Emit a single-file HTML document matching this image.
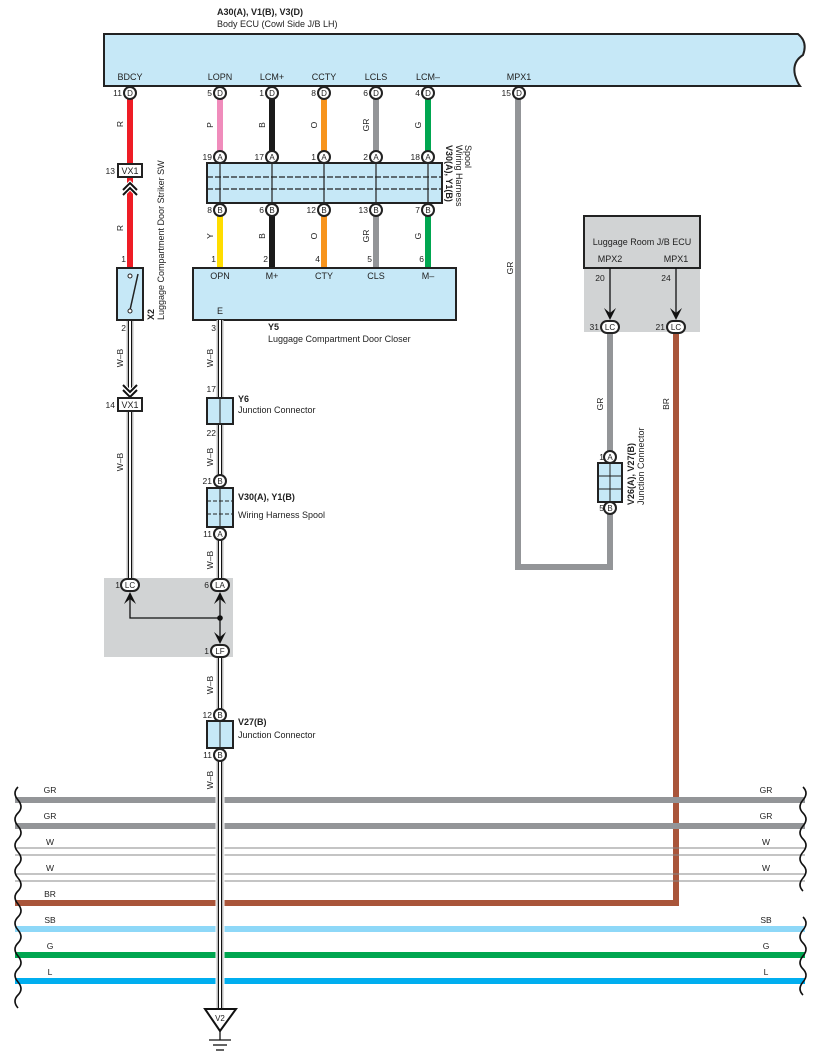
<!DOCTYPE html>
<html><head><meta charset="utf-8"><style>
html,body{margin:0;padding:0;background:#fff;}
svg{display:block;font-family:"Liberation Sans",sans-serif;}
</style></head><body>
<svg width="817" height="1061" viewBox="0 0 817 1061" xmlns="http://www.w3.org/2000/svg" font-size="8.5" fill="#222">

<!-- Body ECU -->
<text x="217" y="15" font-weight="bold" font-size="9">A30(A), V1(B), V3(D)</text>
<text x="217" y="27" font-size="9">Body ECU (Cowl Side J/B LH)</text>
<path d="M104,34 H798 Q808,42 803,55 Q792,62 795,75 Q797,82 800,86 H104 Z" fill="#c6e8f7" stroke="#222" stroke-width="2"/>
<g text-anchor="middle" font-size="9">
<text x="130" y="80">BDCY</text><text x="220" y="80">LOPN</text><text x="272" y="80">LCM+</text>
<text x="324" y="80">CCTY</text><text x="376" y="80">LCLS</text><text x="428" y="80">LCM–</text><text x="519" y="80">MPX1</text>
</g>

<!-- ECU pin wires -->
<g stroke-width="6" fill="none">
<line x1="130" y1="99" x2="130" y2="268" stroke="#ee1c25"/>
<line x1="220" y1="99" x2="220" y2="152" stroke="#f08cbc"/>
<line x1="272" y1="99" x2="272" y2="152" stroke="#1a1a1a"/>
<line x1="324" y1="99" x2="324" y2="152" stroke="#f7941d"/>
<line x1="376" y1="99" x2="376" y2="152" stroke="#939598"/>
<line x1="428" y1="99" x2="428" y2="152" stroke="#00a650"/>
<line x1="220" y1="215" x2="220" y2="268" stroke="#ffdd00"/>
<line x1="272" y1="215" x2="272" y2="268" stroke="#1a1a1a"/>
<line x1="324" y1="215" x2="324" y2="268" stroke="#f7941d"/>
<line x1="376" y1="215" x2="376" y2="268" stroke="#939598"/>
<line x1="428" y1="215" x2="428" y2="268" stroke="#00a650"/>
<polyline points="518,99 518,567 610,567 610,333" stroke="#939598"/>
<polyline points="676,333 676,903 15,903" stroke="#a9553a"/>
</g>

<!-- Gray areas -->
<rect x="584" y="268" width="116" height="64" fill="#d1d3d4"/>
<rect x="104" y="578" width="129" height="79" fill="#d1d3d4"/>

<!-- Spool box -->
<rect x="207" y="163" width="235" height="40" fill="#c6e8f7" stroke="#222" stroke-width="2"/>
<g stroke="#222" stroke-width="1.2">
<line x1="207" y1="177" x2="442" y2="177" stroke-dasharray="6,2"/>
<line x1="207" y1="189" x2="442" y2="189" stroke-dasharray="6,2"/>
<line x1="220" y1="163" x2="220" y2="203"/><line x1="272" y1="163" x2="272" y2="203"/>
<line x1="324" y1="163" x2="324" y2="203"/><line x1="376" y1="163" x2="376" y2="203"/>
<line x1="428" y1="163" x2="428" y2="203"/>
</g>
<g transform="translate(446,145) rotate(90)" font-size="9">
<text x="0" y="0" font-weight="bold">V30(A), Y1(B)</text>
<text x="0" y="-10">Wiring Harness</text>
<text x="0" y="-19">Spool</text>
</g>

<!-- Connector circles -->
<g stroke="#222" stroke-width="2" fill="#fff">
<circle cx="130" cy="93" r="6"/><circle cx="220" cy="93" r="6"/><circle cx="272" cy="93" r="6"/>
<circle cx="324" cy="93" r="6"/><circle cx="376" cy="93" r="6"/><circle cx="428" cy="93" r="6"/><circle cx="519" cy="93" r="6"/>
<circle cx="220" cy="157" r="6"/><circle cx="272" cy="157" r="6"/><circle cx="324" cy="157" r="6"/><circle cx="376" cy="157" r="6"/><circle cx="428" cy="157" r="6"/>
<circle cx="220" cy="210" r="6"/><circle cx="272" cy="210" r="6"/><circle cx="324" cy="210" r="6"/><circle cx="376" cy="210" r="6"/><circle cx="428" cy="210" r="6"/>
</g>
<g text-anchor="middle" font-size="8">
<text x="130" y="96">D</text><text x="220" y="96">D</text><text x="272" y="96">D</text><text x="324" y="96">D</text><text x="376" y="96">D</text><text x="428" y="96">D</text><text x="519" y="96">D</text>
<text x="220" y="160">A</text><text x="272" y="160">A</text><text x="324" y="160">A</text><text x="376" y="160">A</text><text x="428" y="160">A</text>
<text x="220" y="213">B</text><text x="272" y="213">B</text><text x="324" y="213">B</text><text x="376" y="213">B</text><text x="428" y="213">B</text>
</g>
<g text-anchor="end" font-size="8.5">
<text x="122" y="96">11</text><text x="212" y="96">5</text><text x="264" y="96">1</text><text x="316" y="96">8</text><text x="368" y="96">6</text><text x="420" y="96">4</text><text x="511" y="96">15</text>
<text x="212" y="160">19</text><text x="264" y="160">17</text><text x="316" y="160">1</text><text x="368" y="160">2</text><text x="420" y="160">18</text>
<text x="212" y="213">8</text><text x="264" y="213">6</text><text x="316" y="213">12</text><text x="368" y="213">13</text><text x="420" y="213">7</text>
<text x="216" y="262">1</text><text x="268" y="262">2</text><text x="320" y="262">4</text><text x="372" y="262">5</text><text x="424" y="262">6</text>
<text x="126" y="262">1</text><text x="126" y="331">2</text><text x="216" y="331">3</text>
<text x="216" y="392">17</text><text x="216" y="436">22</text>
<text x="212" y="484">21</text><text x="212" y="537">11</text>
<text x="212" y="718">12</text><text x="212" y="758">11</text>
<text x="115" y="174">13</text><text x="115" y="408">14</text>
<text x="120" y="588">1</text><text x="209" y="588">6</text><text x="209" y="654">1</text>
<text x="604" y="460">1</text><text x="604" y="511">5</text>
<text x="599" y="330">31</text><text x="665" y="330">21</text>
</g>

<!-- wire colour labels (rotated) -->
<g font-size="8.5" text-anchor="middle">
<text transform="translate(123,124) rotate(-90)">R</text>
<text transform="translate(123,228) rotate(-90)">R</text>
<text transform="translate(213,125) rotate(-90)">P</text>
<text transform="translate(265,125) rotate(-90)">B</text>
<text transform="translate(317,125) rotate(-90)">O</text>
<text transform="translate(369,125) rotate(-90)">GR</text>
<text transform="translate(421,125) rotate(-90)">G</text>
<text transform="translate(213,236) rotate(-90)">Y</text>
<text transform="translate(265,236) rotate(-90)">B</text>
<text transform="translate(317,236) rotate(-90)">O</text>
<text transform="translate(369,236) rotate(-90)">GR</text>
<text transform="translate(421,236) rotate(-90)">G</text>
<text transform="translate(123,358) rotate(-90)">W–B</text>
<text transform="translate(123,462) rotate(-90)">W–B</text>
<text transform="translate(213,358) rotate(-90)">W–B</text>
<text transform="translate(213,457) rotate(-90)">W–B</text>
<text transform="translate(213,560) rotate(-90)">W–B</text>
<text transform="translate(213,685) rotate(-90)">W–B</text>
<text transform="translate(213,780) rotate(-90)">W–B</text>
<text transform="translate(513,268) rotate(-90)">GR</text>
<text transform="translate(603,404) rotate(-90)">GR</text>
<text transform="translate(669,404) rotate(-90)">BR</text>
</g>

<!-- Y5 box -->
<rect x="193" y="268" width="263" height="52" fill="#c6e8f7" stroke="#222" stroke-width="2"/>
<g text-anchor="middle" font-size="9">
<text x="220" y="279">OPN</text><text x="272" y="279">M+</text><text x="324" y="279">CTY</text><text x="376" y="279">CLS</text><text x="428" y="279">M–</text>
<text x="220" y="314">E</text>
</g>
<text x="268" y="330" font-weight="bold" font-size="9">Y5</text>
<text x="268" y="342" font-size="9">Luggage Compartment Door Closer</text>

<!-- Bus lines -->
<g stroke-width="6">
<line x1="15" y1="800" x2="805" y2="800" stroke="#939598"/>
<line x1="15" y1="826" x2="805" y2="826" stroke="#939598"/>
<line x1="15" y1="929" x2="805" y2="929" stroke="#8ed8f8"/>
<line x1="15" y1="955" x2="805" y2="955" stroke="#00a650"/>
<line x1="15" y1="981" x2="805" y2="981" stroke="#00aeef"/>
</g>
<g stroke="#888" stroke-width="1">
<line x1="15" y1="848" x2="805" y2="848"/><line x1="15" y1="855" x2="805" y2="855"/>
<line x1="15" y1="874" x2="805" y2="874"/><line x1="15" y1="881" x2="805" y2="881"/>
</g>
<g font-size="8.5" text-anchor="middle">
<text x="50" y="793">GR</text><text x="50" y="819">GR</text><text x="50" y="845">W</text><text x="50" y="871">W</text>
<text x="50" y="897">BR</text><text x="50" y="923">SB</text><text x="50" y="949">G</text><text x="50" y="975">L</text>
<text x="766" y="793">GR</text><text x="766" y="819">GR</text><text x="766" y="845">W</text><text x="766" y="871">W</text>
<text x="766" y="923">SB</text><text x="766" y="949">G</text><text x="766" y="975">L</text>
</g>
<g fill="none" stroke="#111" stroke-width="1.6">
<path d="M18,787 q-6,6 0,13 q6,7 0,13 q-6,6 0,13 q6,7 0,13 q-6,6 0,13 q6,7 0,13 q-6,6 0,13 q6,7 0,13 q-6,6 0,13 q6,7 0,13 q-6,6 0,13 q6,7 0,13 q-6,6 0,13 q6,7 0,13 q-6,6 0,13 q6,7 0,13 q-6,6 0,13"/>
<path d="M803,787 q6,6 0,13 q-6,7 0,13 q6,6 0,13 q-6,7 0,13 q6,6 0,13 q-6,7 0,13 q6,6 0,13 q-6,7 0,13"/>
<path d="M803,917 q6,6 0,13 q-6,7 0,13 q6,6 0,13 q-6,7 0,13 q6,6 0,13 q-6,7 0,13"/>
</g>

<!-- W-B wires (double) -->
<g fill="none">
<g stroke="#fff" stroke-width="9">
<line x1="220" y1="657" x2="220" y2="1008"/>
</g>
<g stroke="#bbb" stroke-width="7">
<line x1="130" y1="320" x2="130" y2="580"/>
<line x1="220" y1="320" x2="220" y2="580"/>
<line x1="220" y1="657" x2="220" y2="1008"/>
</g>
<g stroke="#fff" stroke-width="4">
<line x1="130" y1="320" x2="130" y2="580"/>
<line x1="220" y1="320" x2="220" y2="580"/>
<line x1="220" y1="657" x2="220" y2="1008"/>
</g>
<g stroke="#111" stroke-width="1">
<line x1="128.5" y1="320" x2="128.5" y2="580"/><line x1="131.5" y1="320" x2="131.5" y2="580"/>
<line x1="218.5" y1="320" x2="218.5" y2="580"/><line x1="221.5" y1="320" x2="221.5" y2="580"/>
<line x1="218.5" y1="657" x2="218.5" y2="1008"/><line x1="221.5" y1="657" x2="221.5" y2="1008"/>
</g>
</g>

<!-- VX1 boxes and chevrons -->
<g fill="none" stroke="#111" stroke-width="2">
<path d="M123,190 l7,-7 l7,7 M123,195 l7,-7 l7,7" stroke="#fff" stroke-width="4"/>
<path d="M123,190 l7,-7 l7,7 M123,195 l7,-7 l7,7"/>
<path d="M123,385 l7,7 l7,-7 M123,390 l7,7 l7,-7" stroke="#fff" stroke-width="4"/>
<path d="M123,385 l7,7 l7,-7 M123,390 l7,7 l7,-7"/>
</g>
<g fill="#fff" stroke="#222" stroke-width="2">
<rect x="118" y="164" width="24" height="13"/>
<rect x="118" y="398" width="24" height="13"/>
</g>
<g text-anchor="middle" font-size="9"><text x="130" y="174">VX1</text><text x="130" y="408">VX1</text></g>

<!-- X2 switch -->
<rect x="117" y="268" width="26" height="52" fill="#c6e8f7" stroke="#222" stroke-width="2"/>
<line x1="130" y1="310" x2="138" y2="274" stroke="#222" stroke-width="1.5"/>
<circle cx="130" cy="276" r="2" fill="#fff" stroke="#222" stroke-width="1"/>
<circle cx="130" cy="311" r="2" fill="#fff" stroke="#222" stroke-width="1"/>
<g transform="translate(154,320) rotate(-90)" font-size="9">
<text x="0" y="0" font-weight="bold">X2</text>
<text x="0" y="10">Luggage Compartment Door Striker SW</text>
</g>

<!-- Y6 -->
<rect x="207" y="398" width="26" height="26" fill="#c6e8f7" stroke="#222" stroke-width="2"/>
<line x1="220" y1="398" x2="220" y2="424" stroke="#222"/>
<text x="238" y="402" font-weight="bold" font-size="9">Y6</text>
<text x="238" y="413" font-size="9">Junction Connector</text>

<!-- spool 2 -->
<rect x="207" y="488" width="26" height="39" fill="#c6e8f7" stroke="#222" stroke-width="2"/>
<g stroke="#222" stroke-width="1"><line x1="220" y1="488" x2="220" y2="527"/><line x1="207" y1="501" x2="233" y2="501" stroke-dasharray="4,2"/><line x1="207" y1="514" x2="233" y2="514" stroke-dasharray="4,2"/></g>
<text x="238" y="500" font-weight="bold" font-size="9">V30(A), Y1(B)</text>
<text x="238" y="518" font-size="9">Wiring Harness Spool</text>

<!-- V27 -->
<rect x="207" y="721" width="26" height="27" fill="#c6e8f7" stroke="#222" stroke-width="2"/>
<line x1="220" y1="721" x2="220" y2="748" stroke="#222"/>
<text x="238" y="725" font-weight="bold" font-size="9">V27(B)</text>
<text x="238" y="738" font-size="9">Junction Connector</text>

<g stroke="#222" stroke-width="2" fill="#fff">
<circle cx="220" cy="481" r="6"/><circle cx="220" cy="534" r="6"/>
<circle cx="220" cy="715" r="6"/><circle cx="220" cy="755" r="6"/>
</g>
<g text-anchor="middle" font-size="8"><text x="220" y="484">B</text><text x="220" y="537">A</text><text x="220" y="718">B</text><text x="220" y="758">B</text></g>

<!-- junction area -->
<polyline points="130,598 130,618 220,618" fill="none" stroke="#111" stroke-width="1.3"/>
<line x1="220" y1="598" x2="220" y2="642" stroke="#111" stroke-width="1.3"/>
<circle cx="220" cy="618" r="2.8" fill="#111"/>
<g fill="#111">
<path d="M124,604 L130,592 L136,604 L130,599 Z"/>
<path d="M214,604 L220,592 L226,604 L220,599 Z"/>
<path d="M214,632 L220,637 L226,632 L220,644 Z"/>
</g>
<g stroke="#222" stroke-width="2" fill="#fff">
<rect x="121" y="579" width="18" height="12" rx="6"/>
<rect x="211" y="579" width="18" height="12" rx="6"/>
<rect x="211" y="645" width="18" height="12" rx="6"/>
</g>
<g text-anchor="middle" font-size="8"><text x="130" y="588">LC</text><text x="220" y="588">LA</text><text x="220" y="654">LF</text></g>

<!-- Ground -->
<path d="M205,1009 H236 L220,1031 Z" fill="#fff" stroke="#111" stroke-width="2"/>
<text x="220" y="1021" text-anchor="middle" font-size="8">V2</text>
<g stroke="#111" stroke-width="1.3">
<line x1="220" y1="1031" x2="220" y2="1040"/>
<line x1="209" y1="1040" x2="231" y2="1040"/><line x1="213" y1="1045" x2="227" y2="1045"/><line x1="216" y1="1050" x2="224" y2="1050"/>
</g>

<!-- Luggage room J/B ECU -->
<rect x="584" y="216" width="116" height="52" fill="#d1d3d4" stroke="#222" stroke-width="2"/>
<text x="642" y="245" text-anchor="middle" font-size="9">Luggage Room J/B ECU</text>
<text x="610" y="262" text-anchor="middle" font-size="9">MPX2</text>
<text x="676" y="262" text-anchor="middle" font-size="9">MPX1</text>
<text x="600" y="281" text-anchor="middle" font-size="8.5">20</text>
<text x="666" y="281" text-anchor="middle" font-size="8.5">24</text>
<g stroke="#111" stroke-width="1.3"><line x1="610" y1="268" x2="610" y2="318"/><line x1="676" y1="268" x2="676" y2="318"/></g>
<g fill="#111">
<path d="M604,308 L610,313 L616,308 L610,320 Z"/>
<path d="M670,308 L676,313 L682,308 L676,320 Z"/>
</g>
<g stroke="#222" stroke-width="2" fill="#fff">
<rect x="601" y="321" width="18" height="12" rx="6"/>
<rect x="667" y="321" width="18" height="12" rx="6"/>
</g>
<g text-anchor="middle" font-size="8"><text x="610" y="330">LC</text><text x="676" y="330">LC</text></g>

<!-- V26 junction -->
<rect x="598" y="463" width="24" height="39" fill="#c6e8f7" stroke="#222" stroke-width="2"/>
<g stroke="#222" stroke-width="1"><line x1="610" y1="463" x2="610" y2="502"/><line x1="598" y1="476" x2="622" y2="476"/><line x1="598" y1="489" x2="622" y2="489"/></g>
<g stroke="#222" stroke-width="2" fill="#fff"><circle cx="610" cy="457" r="6"/><circle cx="610" cy="508" r="6"/></g>
<g text-anchor="middle" font-size="8"><text x="610" y="460">A</text><text x="610" y="511">B</text></g>
<g transform="translate(634,505) rotate(-90)" font-size="9">
<text x="0" y="0" font-weight="bold">V26(A), V27(B)</text>
<text x="0" y="10">Junction Connector</text>
</g>
</svg>
</body></html>
